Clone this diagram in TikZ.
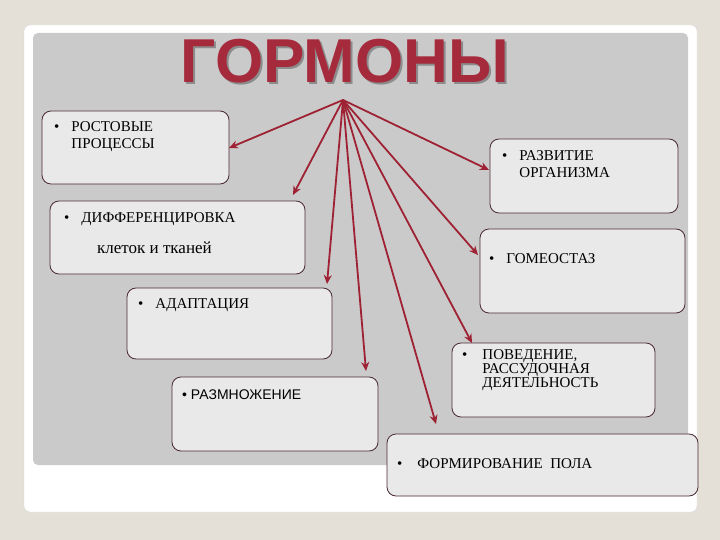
\documentclass[tikz,border=0pt]{standalone}
\usepackage{fontspec}
\setmainfont{Liberation Serif}
\newfontfamily\sansf{Liberation Sans}
\usetikzlibrary{arrows.meta}
\definecolor{bg}{HTML}{E4DFD7}
\definecolor{panel}{HTML}{CACACA}
\definecolor{tred}{HTML}{A52A3C}
\definecolor{ared}{HTML}{9E2233}
\definecolor{bx}{HTML}{EAE9EA}
\definecolor{bd}{HTML}{4A2A30}
\tikzset{
  card/.style={draw=bd, line width=0.8pt, fill=bx, rounded corners=9pt},
  lbl/.style={anchor=north west, font=\fontsize{15}{17}\selectfont, align=left, inner sep=0pt},
  arr/.style={draw=ared, line width=1.8pt, -{Stealth[length=9pt,width=8pt]}}
}
\begin{document}
\begin{tikzpicture}[x=1pt,y=-1pt]
\useasboundingbox (0,0) rectangle (720,540);
\fill[bg] (0,0) rectangle (720,540);
\fill[white, draw=black!15, rounded corners=6pt] (24,25) rectangle (697,512);
\fill[panel, rounded corners=5pt] (33,33) rectangle (688,465);
\node[font=\sansf\bfseries\fontsize{62}{62}\selectfont, text=tred, inner sep=0pt] (title) at (345,62)
  {\makebox[0pt][l]{\kern2pt\raisebox{-2pt}{\color{black!45}ГОРМОНЫ}}ГОРМОНЫ};
\coordinate (apex) at (343,100);
% boxes
\draw[card] (42,111) rectangle (229,184);
\draw[card] (490,139) rectangle (678,213);
\draw[card] (50,201) rectangle (305,274);
\draw[card] (480,229) rectangle (685,313);
\draw[card] (127,288) rectangle (332,359);
\draw[card] (452,343) rectangle (655,417);
\draw[card] (172,377) rectangle (378,451);
\draw[card] (387,434) rectangle (698,496);
% labels
\node[lbl] (t1) at (54,121) {•\hspace{12pt}\parbox[t]{150pt}{РОСТОВЫЕ\\ПРОЦЕССЫ}};
\node[lbl] (t2) at (502,150) {•\hspace{12pt}\parbox[t]{150pt}{РАЗВИТИЕ\\ОРГАНИЗМА}};
\node[lbl] (t3) at (64,212) {•\hspace{12pt}ДИФФЕРЕНЦИРОВКА};
\node[lbl, font=\fontsize{17}{18}\selectfont] (t3b) at (97,242) {клеток и тканей};
\node[lbl] (t4) at (489,253) {•\hspace{12pt}ГОМЕОСТАЗ};
\node[lbl] (t5) at (138,298) {•\hspace{12pt}АДАПТАЦИЯ};
\node[lbl, font=\fontsize{15}{14}\selectfont] (t6) at (462,349) {•\hspace{15pt}\parbox[t]{150pt}{ПОВЕДЕНИЕ,\\РАССУДОЧНАЯ\\ДЕЯТЕЛЬНОСТЬ}};
\node[lbl, font=\sansf\fontsize{14}{15}\selectfont] (t7) at (182,390) {• РАЗМНОЖЕНИЕ};
\node[lbl] (t8) at (397,458) {•\hspace{15pt}ФОРМИРОВАНИЕ\ \ ПОЛА};
% arrows
\coordinate (e1) at (229,148);
\coordinate (e2) at (489,170);
\coordinate (e3) at (293,195);
\coordinate (e4) at (478,255);
\coordinate (e5) at (327,284);
\coordinate (e6) at (366,371);
\coordinate (e7) at (472,343);
\coordinate (e8) at (436,424);
\foreach \e in {e1,e2,e3,e4,e5,e6,e7,e8} \draw[arr] (apex) -- (\e);
\end{tikzpicture}
\end{document}
